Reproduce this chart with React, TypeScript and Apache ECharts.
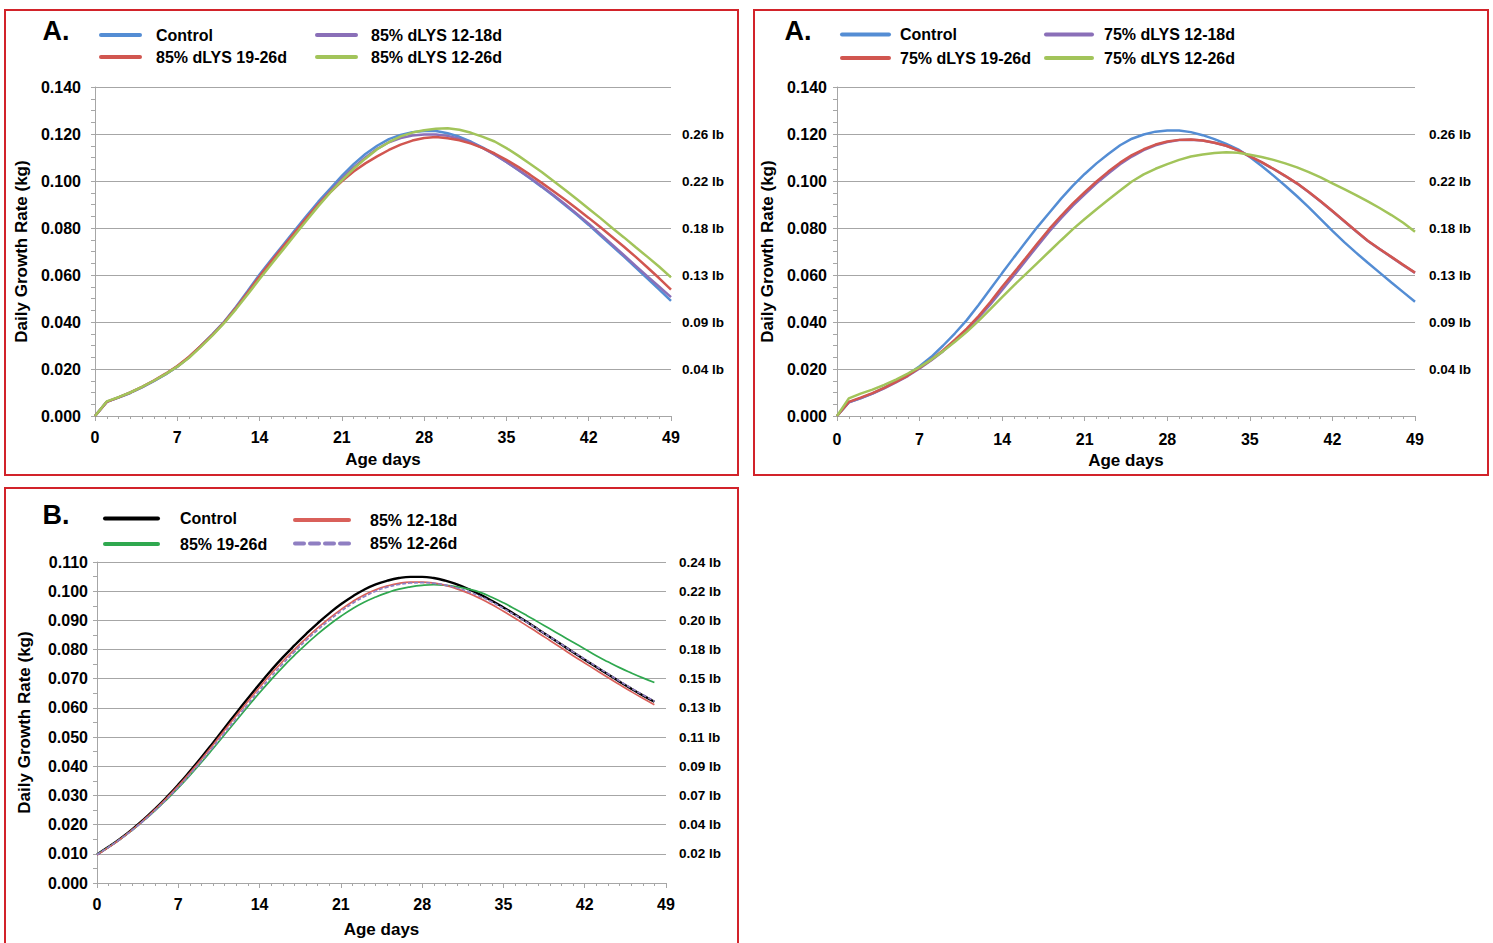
import React, { useEffect, useRef } from "react";
import * as echarts from "echarts";

const FONT = "'Liberation Sans', Arial, Helvetica, sans-serif";

// ---------- Panel A (85%) ----------
const controlA85 = [0.0000, 0.0060, 0.0078, 0.0098, 0.0122, 0.0148, 0.0177, 0.0210, 0.0250, 0.0298, 0.0348, 0.0402, 0.0465, 0.0533, 0.0602, 0.0666, 0.0728, 0.0790, 0.0852, 0.0912, 0.0967, 0.1022, 0.1072, 0.1115, 0.1150, 0.1178, 0.1196, 0.1208, 0.1213, 0.1213, 0.1203, 0.1188, 0.1167, 0.1142, 0.1113, 0.1081, 0.1047, 0.1012, 0.0975, 0.0937, 0.0897, 0.0856, 0.0813, 0.0768, 0.0723, 0.0678, 0.0632, 0.0585, 0.0538, 0.0490];
const dlys85_12_18 = [0.0000, 0.0060, 0.0079, 0.0099, 0.0123, 0.0149, 0.0178, 0.0211, 0.0250, 0.0297, 0.0346, 0.0400, 0.0462, 0.0528, 0.0596, 0.0660, 0.0722, 0.0783, 0.0844, 0.0903, 0.0957, 0.1010, 0.1058, 0.1100, 0.1137, 0.1165, 0.1183, 0.1194, 0.1198, 0.1198, 0.1192, 0.1180, 0.1163, 0.1140, 0.1112, 0.1081, 0.1048, 0.1014, 0.0978, 0.0940, 0.0901, 0.0860, 0.0818, 0.0774, 0.0729, 0.0684, 0.0639, 0.0594, 0.0550, 0.0506];
const dlys85_19_26 = [0.0000, 0.0060, 0.0079, 0.0100, 0.0124, 0.0151, 0.0180, 0.0213, 0.0252, 0.0298, 0.0346, 0.0399, 0.0460, 0.0526, 0.0594, 0.0658, 0.0720, 0.0781, 0.0842, 0.0900, 0.0952, 0.0999, 0.1040, 0.1075, 0.1105, 0.1132, 0.1155, 0.1172, 0.1183, 0.1187, 0.1182, 0.1173, 0.1159, 0.1140, 0.1117, 0.1090, 0.1060, 0.1027, 0.0992, 0.0956, 0.0920, 0.0882, 0.0843, 0.0803, 0.0762, 0.0720, 0.0677, 0.0632, 0.0586, 0.0538];
const dlys85_12_26 = [0.0000, 0.0062, 0.0080, 0.0100, 0.0124, 0.0150, 0.0178, 0.0210, 0.0248, 0.0294, 0.0343, 0.0396, 0.0455, 0.0518, 0.0583, 0.0646, 0.0708, 0.0770, 0.0832, 0.0893, 0.0950, 0.1003, 0.1052, 0.1095, 0.1135, 0.1165, 0.1190, 0.1206, 0.1216, 0.1222, 0.1224, 0.1218, 0.1205, 0.1188, 0.1168, 0.1140, 0.1108, 0.1073, 0.1038, 0.1000, 0.0962, 0.0922, 0.0882, 0.0842, 0.0800, 0.0760, 0.0718, 0.0677, 0.0635, 0.0590];

// ---------- Panel A (75%) ----------
const controlA75 = [0.0000, 0.0058, 0.0075, 0.0095, 0.0120, 0.0147, 0.0177, 0.0212, 0.0252, 0.0300, 0.0352, 0.0408, 0.0472, 0.0540, 0.0608, 0.0675, 0.0740, 0.0805, 0.0865, 0.0925, 0.0980, 0.1030, 0.1075, 0.1115, 0.1152, 0.1180, 0.1198, 0.1210, 0.1215, 0.1215, 0.1208, 0.1195, 0.1178, 0.1158, 0.1135, 0.1102, 0.1064, 0.1023, 0.0980, 0.0935, 0.0888, 0.0838, 0.0788, 0.0740, 0.0695, 0.0652, 0.0610, 0.0568, 0.0527, 0.0486];
const dlys75_12_18 = [0.0000, 0.0058, 0.0076, 0.0095, 0.0118, 0.0143, 0.0170, 0.0202, 0.0237, 0.0276, 0.0320, 0.0366, 0.0418, 0.0475, 0.0536, 0.0598, 0.0661, 0.0724, 0.0785, 0.0842, 0.0895, 0.0943, 0.0990, 0.1032, 0.1071, 0.1104, 0.1131, 0.1152, 0.1166, 0.1174, 0.1176, 0.1172, 0.1163, 0.1150, 0.1130, 0.1105, 0.1079, 0.1051, 0.1021, 0.0989, 0.0952, 0.0913, 0.0871, 0.0829, 0.0786, 0.0745, 0.0710, 0.0676, 0.0642, 0.0609];
const dlys75_19_26 = [0.0000, 0.0060, 0.0078, 0.0097, 0.0120, 0.0145, 0.0172, 0.0205, 0.0240, 0.0280, 0.0325, 0.0372, 0.0425, 0.0485, 0.0550, 0.0610, 0.0672, 0.0735, 0.0796, 0.0852, 0.0905, 0.0952, 0.0998, 0.1040, 0.1078, 0.1110, 0.1135, 0.1155, 0.1168, 0.1175, 0.1177, 0.1172, 0.1163, 0.1150, 0.1130, 0.1105, 0.1080, 0.1052, 0.1022, 0.0990, 0.0953, 0.0914, 0.0872, 0.0830, 0.0787, 0.0746, 0.0711, 0.0677, 0.0643, 0.0610];
const dlys75_12_26 = [0.0000, 0.0075, 0.0095, 0.0112, 0.0132, 0.0155, 0.0180, 0.0208, 0.0240, 0.0276, 0.0316, 0.0358, 0.0405, 0.0455, 0.0506, 0.0556, 0.0604, 0.0652, 0.0700, 0.0748, 0.0795, 0.0838, 0.0880, 0.0920, 0.0960, 0.0998, 0.1028, 0.1052, 0.1072, 0.1090, 0.1104, 0.1113, 0.1119, 0.1122, 0.1120, 0.1112, 0.1102, 0.1090, 0.1075, 0.1058, 0.1038, 0.1015, 0.0990, 0.0965, 0.0940, 0.0913, 0.0885, 0.0855, 0.0822, 0.0784];

// ---------- Panel B ----------
const controlB = [0.0098, 0.0124, 0.0152, 0.0183, 0.0217, 0.0254, 0.0294, 0.0337, 0.0383, 0.0431, 0.0481, 0.0532, 0.0583, 0.0633, 0.0682, 0.0729, 0.0773, 0.0814, 0.0853, 0.0890, 0.0924, 0.0955, 0.0982, 0.1005, 0.1023, 0.1036, 0.1045, 0.1049, 0.1049, 0.1045, 0.1036, 0.1023, 0.1007, 0.0988, 0.0967, 0.0944, 0.0920, 0.0895, 0.0869, 0.0843, 0.0817, 0.0791, 0.0765, 0.0740, 0.0715, 0.0690, 0.0666, 0.0643, 0.0621];
const b85_19_26 = [0.0098, 0.0123, 0.0150, 0.0180, 0.0213, 0.0248, 0.0286, 0.0326, 0.0369, 0.0414, 0.0461, 0.0509, 0.0557, 0.0605, 0.0652, 0.0697, 0.0740, 0.0780, 0.0818, 0.0853, 0.0885, 0.0914, 0.0940, 0.0962, 0.0980, 0.0995, 0.1007, 0.1015, 0.1020, 0.1022, 0.1020, 0.1015, 0.1007, 0.0996, 0.0979, 0.0960, 0.0939, 0.0917, 0.0894, 0.0871, 0.0848, 0.0825, 0.0802, 0.0779, 0.0758, 0.0738, 0.0720, 0.0703, 0.0687];
const b85_12_18 = [0.0096, 0.0122, 0.0150, 0.0181, 0.0215, 0.0252, 0.0291, 0.0333, 0.0378, 0.0425, 0.0474, 0.0524, 0.0574, 0.0623, 0.0671, 0.0717, 0.0760, 0.0800, 0.0838, 0.0874, 0.0907, 0.0937, 0.0964, 0.0987, 0.1005, 0.1018, 0.1027, 0.1031, 0.1031, 0.1028, 0.1020, 0.1008, 0.0993, 0.0975, 0.0954, 0.0931, 0.0907, 0.0882, 0.0857, 0.0831, 0.0805, 0.0779, 0.0754, 0.0729, 0.0704, 0.0680, 0.0656, 0.0633, 0.0611];
const b85_12_26 = [0.0097, 0.0123, 0.0150, 0.0180, 0.0213, 0.0249, 0.0287, 0.0328, 0.0372, 0.0418, 0.0466, 0.0515, 0.0564, 0.0613, 0.0661, 0.0707, 0.0751, 0.0792, 0.0831, 0.0867, 0.0900, 0.0931, 0.0958, 0.0981, 0.1000, 0.1014, 0.1023, 0.1028, 0.1029, 0.1027, 0.1021, 0.1011, 0.0998, 0.0982, 0.0963, 0.0941, 0.0918, 0.0894, 0.0869, 0.0843, 0.0818, 0.0792, 0.0767, 0.0742, 0.0717, 0.0692, 0.0668, 0.0645, 0.0623];

// Right-hand pound labels (one per y tick, from 0 upward)
const lbLabelsA = ["", "0.04 lb", "0.09 lb", "0.13 lb", "0.18 lb", "0.22 lb", "0.26 lb", ""];
const lbLabelsB = ["", "0.02 lb", "0.04 lb", "0.07 lb", "0.09 lb", "0.11 lb", "0.13 lb", "0.15 lb", "0.18 lb", "0.20 lb", "0.22 lb", "0.24 lb"];

const GRAY = "#a6a6a6";
const BORDER = "#d2232a";

type SeriesCfg = { name: string; values: number[]; color: string; width: number; dash?: boolean };
type LegendCfg = { name: string; x: number; y: number; w: number; gap: number; dash?: boolean };

type PanelCfg = {
  letter: string;
  letterPos: [number, number];
  border: [number, number, number, number];
  grid: { left: number; top: number; width: number; height: number };
  yMax: number;
  yInterval: number;
  yMinorSplit: number;
  yLabelMargin: number;
  rightLabels: string[];
  rightMargin: number;
  xLabelMargin: number;
  xNameGap: number;
  yNameGap: number;
  smooth: boolean;
  series: SeriesCfg[];
  legend: LegendCfg[];
};

function buildOption(p: PanelCfg) {
  const labelStyle = { fontFamily: FONT, fontWeight: "bold" as const, color: "#000" };
  return {
    animation: false,
    grid: [{ ...p.grid, containLabel: false }],
    xAxis: [
      {
        type: "value",
        gridIndex: 0,
        min: 0,
        max: 49,
        interval: 7,
        axisLine: { show: true, lineStyle: { color: GRAY, width: 1 } },
        axisTick: { show: true, length: 5, lineStyle: { color: GRAY } },
        minorTick: { show: true, splitNumber: 7, length: 3, lineStyle: { color: GRAY } },
        splitLine: { show: false },
        axisLabel: { ...labelStyle, fontSize: 16, margin: p.xLabelMargin },
        name: "Age days",
        nameLocation: "middle",
        nameGap: p.xNameGap,
        nameTextStyle: { ...labelStyle, fontSize: 17 },
      },
    ],
    yAxis: [
      {
        type: "value",
        gridIndex: 0,
        position: "left",
        min: 0,
        max: p.yMax,
        interval: p.yInterval,
        axisLine: { show: true, lineStyle: { color: GRAY, width: 1 } },
        axisTick: { show: true, length: 4, lineStyle: { color: GRAY } },
        minorTick: { show: true, splitNumber: p.yMinorSplit, length: 4, lineStyle: { color: GRAY } },
        splitLine: { show: true, lineStyle: { color: GRAY, width: 1 } },
        axisLabel: { ...labelStyle, fontSize: 16, margin: p.yLabelMargin, formatter: (v: number) => v.toFixed(3) },
        name: "Daily Growth Rate (kg)",
        nameLocation: "middle",
        nameGap: p.yNameGap,
        nameTextStyle: { ...labelStyle, fontSize: 17 },
      },
      {
        type: "value",
        gridIndex: 0,
        position: "right",
        min: 0,
        max: p.yMax,
        interval: p.yInterval,
        axisLine: { show: false },
        axisTick: { show: false },
        splitLine: { show: false },
        axisLabel: {
          ...labelStyle,
          fontSize: 13.5,
          margin: p.rightMargin,
          formatter: (v: number) => p.rightLabels[Math.round(v / p.yInterval)] ?? "",
        },
      },
    ],
    legend: p.legend.map((l) => ({
      left: l.x,
      top: l.y - 9,
      padding: 0,
      orient: "horizontal",
      selectedMode: false,
      itemWidth: l.w,
      itemHeight: 4,
      data: [l.name],
      itemStyle: { opacity: 0 },
      lineStyle: { width: 4, cap: "round", type: l.dash ? [9, 6] : "solid" },
      textStyle: { ...labelStyle, fontSize: 16, lineHeight: 18, padding: [0, 0, 0, l.gap - 5] },
    })),
    graphic: [
      {
        type: "rect",
        silent: true,
        shape: { x: p.border[0], y: p.border[1], width: p.border[2], height: p.border[3] },
        style: { fill: "none", stroke: BORDER, lineWidth: 2 },
      },
      {
        type: "text",
        x: p.letterPos[0],
        y: p.letterPos[1],
        style: {
          text: p.letter,
          fontFamily: FONT,
          fontWeight: "bold",
          fontSize: 27,
          fill: "#000",
          align: "center",
          verticalAlign: "middle",
        },
      },
    ],
    series: p.series.map((s, k) => ({
      type: "line",
      name: s.name,
      xAxisIndex: 0,
      yAxisIndex: 0,
      data: s.values.map((v, i) => [i, v]),
      symbol: "none",
      showSymbol: false,
      smooth: p.smooth,
      z: 2 + k,
      silent: true,
      lineStyle: { color: s.color, width: s.width, type: s.dash ? [4, 2] : "solid" },
      itemStyle: { color: s.color },
    })),
  };
}

const BLUE = "#548dd4";
const RED = "#d15650";
const PURPLE = "#8a6fb8";
const LGREEN = "#a2c45a";

const panel1: PanelCfg = {
  letter: "A.",
  letterPos: [56, 31],
  border: [5, 10, 733, 465],
  grid: { left: 95, top: 87, width: 576, height: 329 },
  yMax: 0.14,
  yInterval: 0.02,
  yMinorSplit: 4,
  yLabelMargin: 14,
  rightLabels: lbLabelsA,
  rightMargin: 11,
  xLabelMargin: 13,
  xNameGap: 35,
  yNameGap: 62,
  smooth: false,
  series: [
    { name: "Control", values: controlA85, color: BLUE, width: 2.5 },
    { name: "85% dLYS 12-18d", values: dlys85_12_18, color: PURPLE, width: 2.5 },
    { name: "85% dLYS 19-26d", values: dlys85_19_26, color: RED, width: 2.5 },
    { name: "85% dLYS 12-26d", values: dlys85_12_26, color: LGREEN, width: 2.5 },
  ],
  legend: [
    { name: "Control", x: 99, y: 35, w: 39, gap: 16 },
    { name: "85% dLYS 19-26d", x: 99, y: 57, w: 39, gap: 16 },
    { name: "85% dLYS 12-18d", x: 315, y: 35, w: 39, gap: 15 },
    { name: "85% dLYS 12-26d", x: 315, y: 57, w: 39, gap: 15 },
  ],
};

const panel2: PanelCfg = {
  letter: "A.",
  letterPos: [52, 31],
  border: [8, 10, 734, 465],
  grid: { left: 91, top: 87, width: 578, height: 329 },
  yMax: 0.14,
  yInterval: 0.02,
  yMinorSplit: 4,
  yLabelMargin: 10,
  rightLabels: lbLabelsA,
  rightMargin: 14,
  xLabelMargin: 15,
  xNameGap: 35,
  yNameGap: 58,
  smooth: false,
  series: [
    { name: "Control", values: controlA75, color: BLUE, width: 2.5 },
    { name: "75% dLYS 12-18d", values: dlys75_12_18, color: PURPLE, width: 2.5 },
    { name: "75% dLYS 19-26d", values: dlys75_19_26, color: RED, width: 2.5 },
    { name: "75% dLYS 12-26d", values: dlys75_12_26, color: LGREEN, width: 2.5 },
  ],
  legend: [
    { name: "Control", x: 94, y: 34.5, w: 47, gap: 11 },
    { name: "75% dLYS 19-26d", x: 94, y: 58, w: 47, gap: 11 },
    { name: "75% dLYS 12-18d", x: 298, y: 34.5, w: 46, gap: 12 },
    { name: "75% dLYS 12-26d", x: 298, y: 58, w: 46, gap: 12 },
  ],
};

const panel3: PanelCfg = {
  letter: "B.",
  letterPos: [56, 35],
  border: [5, 8, 733, 500],
  grid: { left: 97, top: 82, width: 569, height: 321 },
  yMax: 0.11,
  yInterval: 0.01,
  yMinorSplit: 2,
  yLabelMargin: 9,
  rightLabels: lbLabelsB,
  rightMargin: 13,
  xLabelMargin: 13,
  xNameGap: 38,
  yNameGap: 64,
  smooth: true,
  series: [
    { name: "Control", values: controlB, color: "#000000", width: 2.4 },
    { name: "85% 19-26d", values: b85_19_26, color: "#2fa84f", width: 1.7 },
    { name: "85% 12-18d", values: b85_12_18, color: "#d9605a", width: 1.7 },
    { name: "85% 12-26d", values: b85_12_26, color: "#8f7fc2", width: 1.7, dash: true },
  ],
  legend: [
    { name: "Control", x: 103, y: 38.5, w: 53, gap: 22 },
    { name: "85% 19-26d", x: 103, y: 64, w: 53, gap: 22 },
    { name: "85% 12-18d", x: 293, y: 40, w: 54, gap: 21 },
    { name: "85% 12-26d", x: 293, y: 63.5, w: 54, gap: 21, dash: true },
  ],
};

function Chart({ cfg, left, top, width, height }: { cfg: PanelCfg; left: number; top: number; width: number; height: number }) {
  const ref = useRef<HTMLDivElement>(null);
  useEffect(() => {
    if (!ref.current) return;
    const chart = echarts.init(ref.current, null, { renderer: "svg" });
    chart.setOption(buildOption(cfg) as any);
    return () => chart.dispose();
  }, [cfg]);
  return <div ref={ref} style={{ position: "absolute", left, top, width, height }} />;
}

export default function App() {
  return (
    <div style={{ position: "absolute", left: 0, top: 0, width: 1493, height: 943, overflow: "hidden", background: "#fff" }}>
      <Chart cfg={panel1} left={0} top={0} width={746} height={480} />
      <Chart cfg={panel2} left={746} top={0} width={747} height={480} />
      <Chart cfg={panel3} left={0} top={480} width={746} height={463} />
    </div>
  );
}
